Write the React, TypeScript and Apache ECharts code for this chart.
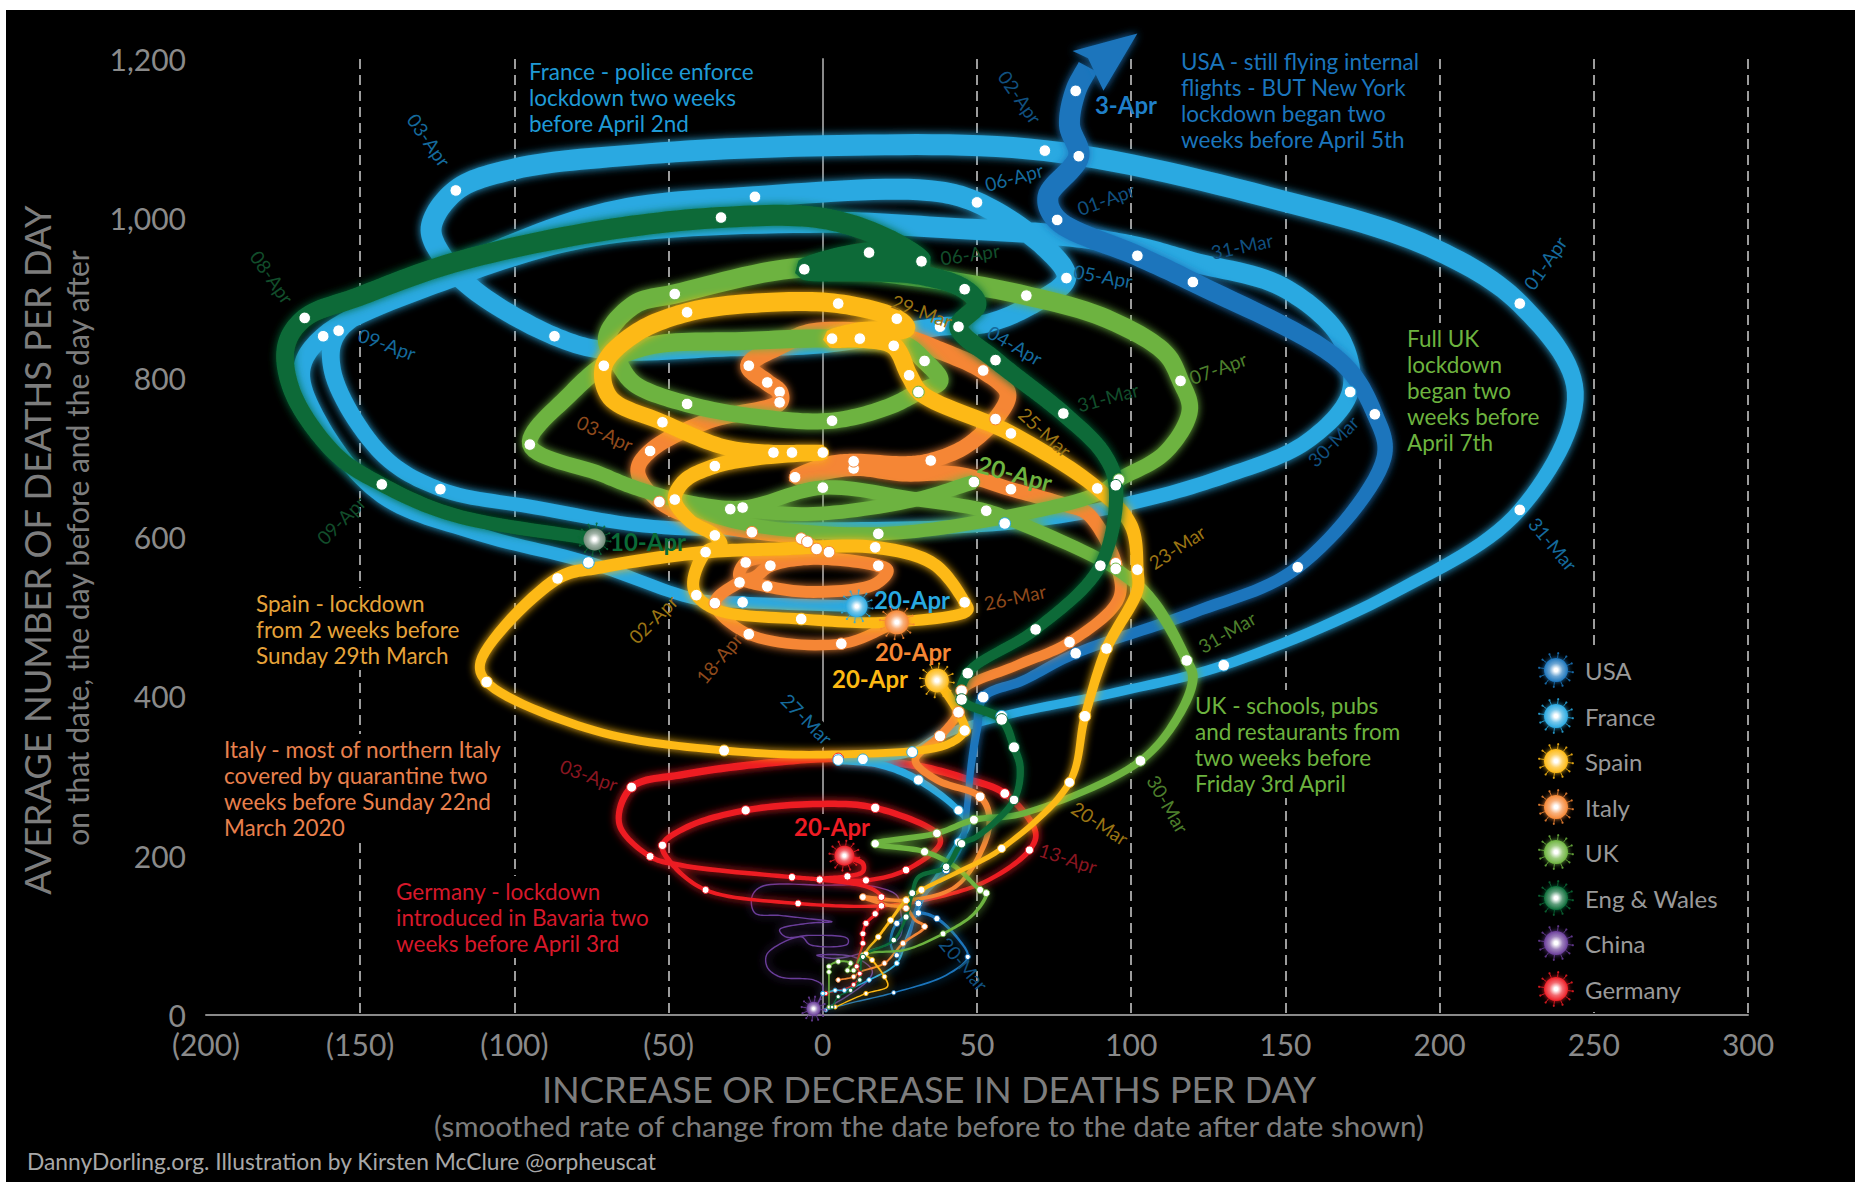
import React, { useEffect, useRef } from "react";
import * as echarts from "echarts";

type P = number[]; // [change per day, deaths per day, 1 when the date carries a white dot]

const xTicks = { min: -200, max: 300, interval: 50 };
const yTicks = { min: 0, max: 1200, interval: 200 };
const zeroLine = [[0, 0], [0, 1200]];

const chinaPath: P[] = [[0,6],[8,24],[15,45],[16,56],[10,73],[-2,75],[4,71],[16,82],[25,98],[25,136],[24,150],[17,161],[0,163],[-20,161],[-23,148],[-22,128],[-14,125],[-5,121],[3,117],[-5,115],[-14,107],[-12,98],[-4,100],[8,96],[8,89],[-4,88],[-7,98],[-18,77],[-18,60],[-14,48],[-3,44],[0,36],[-2,12],[-3,8]];
const germanyPath: P[] = [[1,27,1],[10,38,1],[12,52,1],[11,61,1],[13,90,1],[13,102,1],[14,115,1],[17,127,1],[19,148,1],[15,160],[-1,170,1],[-10,173,1],[-46,188],[-56,199,1],[-66,240],[-62,286,1],[-45,302],[-16,317],[5,322,1],[30,313],[46,297],[59,278,1],[69,229],[67,207,1],[53,168],[34,145],[19,137,1],[-8,140,1],[-38,157,1],[-49,190],[-52,213,1],[-44,236],[-25,257,1],[0,265],[17,260,1],[37,228,1],[38,215],[27,182,1],[14,169,1],[0,171],[8,174,1],[13,180],[13,190],[9,197],[7,200]];
const francePath: P[] = [[0,27,1],[4,31,1],[7,31,1],[15,44,1],[24,65,1],[27,95],[33,150],[38,180],[44,217,1],[47,240],[44,257,1],[31,295,1],[18,315],[5,320,1],[13,321,1],[29,330,1],[38,350],[58,375,1],[95,405],[130,439,1],[185,530],[226,634,1],[244,782],[226,893,1],[197,964],[149,1022],[72,1085,1],[0,1091],[-60,1080],[-100,1062],[-119,1035,1],[-127,988],[-123,950],[-112,907],[-87,852,1],[-70,834],[-30,838],[0,842],[38,864,1],[53,868],[68,892],[79,925,1],[72,964],[50,1020,1],[34,1035],[-22,1027,1],[-70,1007],[-120,935],[-157,859,1],[-159,809],[-143,704],[-124,660,1],[-93,637],[-55,613],[0,610],[59,617,1],[99,642],[130,676],[157,720],[171,782,1],[168,849],[149,914],[120,945],[102,964],[79,978],[40,988],[0,995],[-74,978],[-120,926],[-162,852,1],[-169,809],[-163,743],[-143,651],[-112,604],[-76,568,1],[-41,522],[-26,518,1],[11,513]];
const usaPath: P[] = [[1,6,1],[8,14],[23,28,1],[40,50],[47,73,1],[44,95],[37,121,1],[31,128,1],[24,115,1],[22,90],[24,75,1],[28,100],[31,140,1],[40,182,1],[45,215],[47,270],[48,310],[50,360],[52,399,1],[65,420],[82,454,1],[120,505],[154,562,1],[182,700],[179,754,1],[168,820],[120,920,1],[102,953,1],[76,998,1],[73,1027],[83,1078,1],[80,1117],[82,1160,1],[86,1190]];
const usaArrow: P[] = [[102,1232],[81,1210],[86,1201],[91,1160]];
const italyPath: P[] = [[5,44,1],[10,48,1],[12,54],[20,65,1],[26,90,1],[33,111,1],[30,119],[27,134,1],[21,138],[13,148,1],[27,144,1],[43,161],[52,211],[54,249],[51,274,1],[37,295],[30,320],[38,350,1],[44,380,1],[45,407,1],[63,439],[80,468,1],[96,523],[95,567,1],[86,629],[79,640],[61,660,1],[44,679],[26,679],[10,686,1],[-9,675,1],[2,692],[10,695,1],[27,692],[35,696,1],[46,713],[56,748,1],[60,780],[52,809,1],[38,834],[25,851],[-3,857],[-14,840],[-24,815,1],[-18,794,1],[-14,782,1],[-14,769,1],[-37,746],[-56,708,1],[-60,683],[-53,644,1],[-37,617],[-23,606,1],[-7,598,1],[-5,594,1],[-2,585,1],[2,581,1],[-14,577],[-25,568,1],[-27,550],[-18,538,1],[-3,531],[17,541],[21,558],[18,564,1],[-3,573],[-17,564,1],[-22,550],[-27,543,1],[-35,517,1],[-24,478,1],[6,466,1],[24,493]];
const ukPath: P[] = [[2,10,1],[2,54,1],[2,61,1],[5,67,1],[9,65,1],[8,56,1],[10,56,1],[13,75,1],[27,82],[39,102,1],[49,127],[53,153,1],[51,157,1],[43,186],[33,205,1],[17,215,1],[37,228,1],[49,245,1],[65,253],[103,319,1],[116,380],[120,424],[118,445,1],[107,519],[95,560,1],[64,617],[53,633,1],[29,648],[0,662,1],[-26,637,1],[-44,644],[-61,662],[-72,679],[-95,716,1],[-82,779],[-69,821],[-55,841],[-26,846],[3,849],[26,842],[33,821,1],[38,796],[31,782,1],[21,763],[3,746,1],[-20,750],[-44,767,1],[-61,792],[-66,817],[-70,850],[-61,892],[-48,905,1],[-7,938],[32,926],[66,903,1],[92,874],[111,831],[116,796,1],[119,759],[111,706],[96,672,1],[89,654],[59,625],[18,604,1],[-26,617],[-44,640],[-30,635,1],[-3,629],[29,646],[49,669,1]];
const spainPath: P[] = [[4,10,1],[14,27,1],[21,36],[20,48,1],[16,69,1],[14,77,1],[18,98,1],[22,119,1],[27,144,1],[32,157,1],[43,178],[58,209,1],[80,292,1],[85,375,1],[92,460,1],[102,533],[102,559,1],[100,614],[89,661,1],[61,730,1],[32,780],[28,803,1],[23,840,1],[12,849,1],[3,849,1],[12,858],[27,862],[24,874,1],[5,893,1],[-20,894],[-44,882,1],[-61,855],[-71,815,1],[-69,775],[-52,744,1],[-32,713],[-16,706,1],[-10,706,1],[0,706,1],[-20,700],[-35,689,1],[-45,670],[-48,647,1],[-43,620],[-35,602,1],[-33,590],[-38,581,1],[-42,545],[-41,527,1],[-34,508],[-7,497,1],[21,493],[47,508],[46,518,1],[36,566],[17,587,1],[-14,585],[-38,581],[-72,562],[-86,548,1],[-111,443],[-109,418,1],[-74,357],[-32,332,1],[3,327],[40,339],[46,357,1],[45,372],[40,405],[37,420]];
const engWalesPath: P[] = [[3,10,1],[5,23,1],[9,31,1],[12,44,1],[13,73,1],[23,94,1],[27,123,1],[29,153,1],[31,173],[40,186,1],[45,215,1],[50,224],[62,270,1],[64,310],[62,336,1],[58,371,1],[45,396,1],[47,429,1],[69,484,1],[90,564,1],[95,665,1],[91,705],[78,755,1],[56,822,1],[44,864,1],[50,892],[46,911,1],[30,930],[-6,936,1],[15,957,1],[32,946,1],[22,972],[0,1000],[-33,1001,1],[-74,983],[-120,944],[-151,901],[-168,875,1],[-174,840],[-172,782],[-158,704],[-143,666,1],[-120,628],[-74,597]];

const BLUE = "#29a9e1", USA = "#1b75bc", YEL = "#fdb913", ORG = "#f58634", GRN = "#6db33f", DGR = "#0a6b37", PUR = "#6a3d9a", RED = "#ed1c24";

const countries = [
  { name: "China", color: PUR, path: chinaPath, thin: true },
  { name: "Germany", color: RED, path: germanyPath },
  { name: "France", color: BLUE, path: francePath },
  { name: "USA", color: USA, path: usaPath },
  { name: "Italy", color: ORG, path: italyPath },
  { name: "UK", color: GRN, path: ukPath },
  { name: "Spain", color: YEL, path: spainPath },
  { name: "Eng & Wales", color: DGR, path: engWalesPath },
];

const legendNames = ["USA", "France", "Spain", "Italy", "UK", "Eng & Wales", "China", "Germany"];
const legendColors = [USA, BLUE, YEL, ORG, GRN, DGR, PUR, RED];
const legendY = [670, 716, 761, 807, 852, 898, 943, 989];

const endPoints = [
  { color: BLUE, spike: BLUE, at: [11, 513], r: 11 },
  { color: ORG, spike: ORG, at: [24, 493], r: 12 },
  { color: YEL, spike: YEL, at: [37, 420], r: 12 },
  { color: "#6f8a78", spike: DGR, at: [-74, 597], r: 11 },
  { color: RED, spike: RED, at: [7, 200], r: 10 },
  { color: PUR, spike: PUR, at: [-3, 8], r: 7 },
];

const notes = [
  { color: "#1f9ad6", x: 525, y: 56, text: "France - police enforce\nlockdown two weeks\nbefore April 2nd" },
  { color: "#1b75bc", x: 1177, y: 46, text: "USA - still flying internal\nflights - BUT New York\nlockdown began two\nweeks before April 5th" },
  { color: "#6db33f", x: 1403, y: 323, text: "Full UK\nlockdown\nbegan two\nweeks before\nApril 7th" },
  { color: "#e6a33a", x: 252, y: 588, text: "Spain - lockdown\nfrom 2 weeks before\nSunday 29th March" },
  { color: "#e9804d", x: 220, y: 734, text: "Italy - most of northern Italy\ncovered by quarantine two\nweeks before Sunday 22nd\nMarch 2020" },
  { color: "#6db33f", x: 1191, y: 690, text: "UK - schools, pubs\nand restaurants from\ntwo weeks before\nFriday 3rd April" },
  { color: "#d7182a", x: 392, y: 876, text: "Germany - lockdown\nintroduced in Bavaria two\nweeks before April 3rd" },
];

const FR = "#156a9c", US = "#11507f", UKC = "#4d7f2c", EW = "#124d2b", SP = "#9a7414", IT = "#8f4a1c", GE = "#8a1620";
const dateLabels: [string, number, number, number, string, number?][] = [
  ["03-Apr", 429, 140, -55, FR], ["09-Apr", 387, 344, -20, FR], ["06-Apr", 1014, 177, 15, FR], ["05-Apr", 1103, 276, -10, FR],
  ["04-Apr", 1015, 345, -30, FR], ["31-Mar", 1553, 544, -50, FR], ["01-Apr", 1545, 263, 55, FR], ["27-Mar", 807, 719, -45, FR, 1],
  ["31-Mar", 1242, 246, 12, US], ["30-Mar", 1333, 441, 45, US], ["01-Apr", 1106, 199, 20, US], ["02-Apr", 1020, 97, -55, US], ["20-Mar", 964, 964, -50, US],
  ["07-Apr", 1218, 368, 20, UKC], ["31-Mar", 1227, 632, 30, UKC], ["30-Mar", 1168, 804, -60, UKC],
  ["09-Apr", 341, 520, 45, EW], ["08-Apr", 272, 277, -55, EW], ["06-Apr", 970, 254, 8, EW], ["31-Mar", 1108, 397, 15, EW],
  ["29-Mar", 922, 311, -20, SP], ["25-Mar", 1045, 432, -42, SP], ["23-Mar", 1177, 547, 33, SP], ["02-Apr", 653, 619, 45, SP], ["20-Mar", 1100, 823, -33, SP],
  ["03-Apr", 605, 433, -25, IT], ["26-Mar", 1015, 597, 12, IT], ["18-Apr", 719, 658, 50, IT],
  ["03-Apr", 589, 775, -20, GE], ["13-Apr", 1068, 858, -18, GE],
];
const boldLabels: [string, number, number, number, string, number?][] = [
  ["3-Apr", 1126, 104, 0, "#1f7fc8"], ["20-Apr", 1015, 473, -15, GRN], ["10-Apr", 648, 541, 0, DGR], ["20-Apr", 870, 678, 0, YEL],
  ["20-Apr", 913, 651, 0, ORG], ["20-Apr", 912, 599, 0, "#29a9e1"], ["20-Apr", 832, 826, 0, RED, 1],
];

const FONT = "Lato";
const GREY = "#8a8a8a";

function towardWhite(hex: string, f: number) {
  const n = parseInt(hex.slice(1), 16);
  const c = [(n >> 16) & 255, (n >> 8) & 255, n & 255].map((v) => Math.round(v + (255 - v) * f));
  return `rgb(${c[0]},${c[1]},${c[2]})`;
}

// centripetal Catmull-Rom through the pixel positions of one series
function sample(pts: number[][], n: number) {
  const out: number[][] = [];
  const d = (a: number[], b: number[]) => Math.max(0.01, Math.sqrt(Math.hypot(a[0] - b[0], a[1] - b[1])));
  for (let i = 0; i < pts.length - 1; i++) {
    const p1 = pts[i], p2 = pts[i + 1];
    const p0 = i > 0 ? pts[i - 1] : [2 * p1[0] - p2[0], 2 * p1[1] - p2[1]];
    const p3 = i < pts.length - 2 ? pts[i + 2] : [2 * p2[0] - p1[0], 2 * p2[1] - p1[1]];
    const t0 = 0, t1 = t0 + d(p0, p1), t2 = t1 + d(p1, p2), t3 = t2 + d(p2, p3);
    for (let k = 0; k < n; k++) {
      const t = t1 + ((t2 - t1) * k) / n;
      const mix = (a: number[], b: number[], ta: number, tb: number) => {
        const f = (t - ta) / (tb - ta);
        return [a[0] + (b[0] - a[0]) * f, a[1] + (b[1] - a[1]) * f];
      };
      const a1 = mix(p0, p1, t0, t1), a2 = mix(p1, p2, t1, t2), a3 = mix(p2, p3, t2, t3);
      const b1 = mix(a1, a2, t0, t2), b2 = mix(a2, a3, t1, t3);
      out.push(mix(b1, b2, t1, t2));
    }
  }
  out.push(pts[pts.length - 1]);
  return out;
}

function ribbon(pts: number[][], widthAt: (py: number) => number) {
  const c = sample(pts, 14);
  const left: number[][] = [], right: number[][] = [];
  c.forEach((p, i) => {
    const a = c[Math.max(0, i - 1)], b = c[Math.min(c.length - 1, i + 1)];
    const dx = b[0] - a[0], dy = b[1] - a[1], l = Math.hypot(dx, dy) || 1;
    const w = widthAt(p[1]) / 2;
    left.push([p[0] - (dy / l) * w, p[1] + (dx / l) * w]);
    right.push([p[0] + (dy / l) * w, p[1] - (dx / l) * w]);
  });
  return left.concat(right.reverse());
}

function virus(color: string, spike: string, r: number) {
  const children: any[] = [];
  for (let i = 0; i < 12; i++) {
    const a = (i * Math.PI) / 6 + 0.13;
    const cs = Math.cos(a), sn = Math.sin(a);
    children.push({ type: "line", shape: { x1: cs * r, y1: sn * r, x2: cs * (r + 4.5), y2: sn * (r + 4.5) }, style: { stroke: spike, lineWidth: 1, fill: "none", opacity: 0.85 } });
    children.push({ type: "circle", shape: { cx: cs * (r + 5), cy: sn * (r + 5), r: 1.1 }, style: { fill: spike, opacity: 0.85 } });
  }
  children.push({
    type: "circle",
    shape: { cx: 0, cy: 0, r },
    style: {
      fill: new echarts.graphic.RadialGradient(0.5, 0.5, 0.5, [
        { offset: 0, color: "#ffffff" },
        { offset: 0.15, color: "#ffffff" },
        { offset: 0.55, color: towardWhite(color, 0.35) },
        { offset: 1, color },
      ]),
      shadowBlur: 5,
      shadowColor: spike,
    },
  });
  return children;
}

export default function App() {
  const ref = useRef<HTMLDivElement>(null);
  useEffect(() => {
    const chart = echarts.init(ref.current!, undefined, { renderer: "svg" });
    const series: any[] = [
      { type: "line", data: zeroLine, symbol: "none", silent: true, z: 1, lineStyle: { color: GREY, width: 1.5 } },
    ];
    countries.forEach((c, idx) => {
      series.push({
        type: "custom",
        name: c.name,
        coordinateSystem: "cartesian2d",
        silent: true,
        z: 5 + idx,
        encode: { x: 0, y: 1 },
        data: c.path.map((p) => [p[0], p[1]]),
        renderItem: (params: any, api: any) => {
          if (params.dataIndex !== 0) return null;
          const y0 = api.coord([0, 0])[1], y1 = api.coord([0, 1000])[1];
          const pts = c.path.map((p) => api.coord([p[0], p[1]]));
          const widthAt = (py: number) => {
            if (c.thin) return 1.4;
            const v = ((y0 - py) / (y0 - y1)) * 1000;
            return Math.min(21, 1.2 + 0.02 * v * (0.4 + 0.6 * Math.min(1, v / 200)));
          };
          return {
            type: "polygon",
            shape: { points: ribbon(pts, widthAt) },
            style: { fill: c.color, shadowBlur: 9, shadowColor: c.color },
          };
        },
      });
      const dots = c.path.filter((p) => p[2]).map((p) => [p[0], p[1]]);
      if (dots.length)
        series.push({
          type: "scatter",
          data: dots,
          silent: true,
          z: 20,
          symbolSize: (v: number[]) => 2 * Math.min(5.8, 1.8 + v[1] * 0.011),
          itemStyle: { color: "#fff", opacity: 1, borderColor: c.color, borderWidth: 1 },
        });
    });
    series.push({
      type: "custom",
      coordinateSystem: "cartesian2d",
      silent: true,
      z: 13,
      encode: { x: 0, y: 1 },
      data: usaArrow.map((p) => [p[0], p[1]]),
      renderItem: (params: any, api: any) =>
        params.dataIndex === 0
          ? { type: "polygon", shape: { points: usaArrow.map((p) => api.coord([p[0], p[1]])) }, style: { fill: USA, shadowBlur: 8, shadowColor: USA } }
          : null,
    });
    series.push({
      type: "custom",
      coordinateSystem: "cartesian2d",
      silent: true,
      z: 30,
      encode: { x: 0, y: 1 },
      data: endPoints.map((e) => e.at),
      renderItem: (params: any, api: any) => {
        const e = endPoints[params.dataIndex];
        const c = api.coord(e.at);
        return { type: "group", x: c[0], y: c[1], children: virus(e.color, e.spike, e.r) };
      },
    });

    const graphic: any[] = [
      { type: "rect", z: -1, shape: { x: 6, y: 10, width: 1849, height: 1172 }, style: { fill: "#000" } },
      { type: "rect", z: 2, shape: { x: 1530, y: 650, width: 195, height: 362 }, style: { fill: "#000" } },
    ];
    notes.forEach((n) =>
      graphic.push({
        type: "text", z: 2, x: n.x, y: n.y,
        style: { text: n.text, fill: n.color, font: `22.5px ${FONT}`, lineHeight: 26, backgroundColor: "#000", padding: [2, 4], verticalAlign: "top", align: "left" },
      })
    );
    dateLabels.forEach(([t, x, y, rot, col, low]) =>
      graphic.push({
        type: "text", z: low ? 2 : 40, x, y, rotation: (rot * Math.PI) / 180,
        style: { text: t, fill: col, font: `19px ${FONT}`, align: "center", verticalAlign: "middle", backgroundColor: low ? "#000" : undefined },
      })
    );
    boldLabels.forEach(([t, x, y, rot, col, low]) =>
      graphic.push({
        type: "text", z: low ? 2 : 40, x, y, rotation: (rot * Math.PI) / 180,
        style: { text: t, fill: col, font: `bold 24px ${FONT}`, align: "center", verticalAlign: "middle", backgroundColor: low ? "#000" : undefined },
      })
    );
    legendNames.forEach((n, i) => {
      graphic.push({ type: "group", z: 40, x: 1556, y: legendY[i], children: virus(legendColors[i], legendColors[i], 12).map((ch) => ({ ...ch, z: 40 })) });
      graphic.push({ type: "text", z: 40, x: 1585, y: legendY[i], style: { text: n, fill: "#999", font: `24px ${FONT}`, verticalAlign: "middle" } });
    });
    const titleStyle = { fill: "#7d7d7d", align: "center", verticalAlign: "middle" };
    graphic.push({ type: "text", z: 40, x: 929, y: 1089, style: { ...titleStyle, text: "INCREASE OR DECREASE IN DEATHS PER DAY", font: `36.3px ${FONT}` } });
    graphic.push({ type: "text", z: 40, x: 929, y: 1125, style: { ...titleStyle, text: "(smoothed rate of change from the date before to the date after date shown)", font: `29.6px ${FONT}` } });
    graphic.push({ type: "text", z: 40, x: 37, y: 550, rotation: Math.PI / 2, style: { ...titleStyle, text: "AVERAGE NUMBER OF DEATHS PER DAY", font: `36.3px ${FONT}` } });
    graphic.push({ type: "text", z: 40, x: 77, y: 548, rotation: Math.PI / 2, style: { ...titleStyle, text: "on that date, the day before and the day after", font: `30px ${FONT}` } });
    graphic.push({ type: "text", z: 40, x: 27, y: 1161, style: { text: "DannyDorling.org. Illustration by Kirsten McClure @orpheuscat", fill: "#a8a8a8", font: `22.8px ${FONT}`, verticalAlign: "middle" } });

    chart.setOption({
      animation: false,
      backgroundColor: "#fff",
      textStyle: { fontFamily: FONT },
      grid: { left: 206, right: 107, top: 59, bottom: 167 },
      xAxis: {
        type: "value", ...xTicks,
        axisLine: { onZero: false, lineStyle: { color: GREY, width: 2 } },
        axisTick: { show: false },
        axisLabel: { color: GREY, fontSize: 30, margin: 14, formatter: (v: number) => (v < 0 ? `(${-v})` : `${v}`) },
        splitLine: { show: true, showMinLine: false, lineStyle: { color: "#cfcfcf", type: [10, 6], width: 1.5 } },
      },
      yAxis: {
        type: "value", ...yTicks,
        axisLine: { show: true, lineStyle: { color: GREY, width: 2 } },
        axisTick: { show: false },
        axisLabel: { color: GREY, fontSize: 30, margin: 20, formatter: (v: number) => v.toLocaleString("en-US") },
        splitLine: { show: false },
      },
      graphic,
      series,
    });
    return () => chart.dispose();
  }, []);
  return <div ref={ref} style={{ position: "absolute", left: 0, top: 0, width: 1855, height: 1182 }} />;
}
